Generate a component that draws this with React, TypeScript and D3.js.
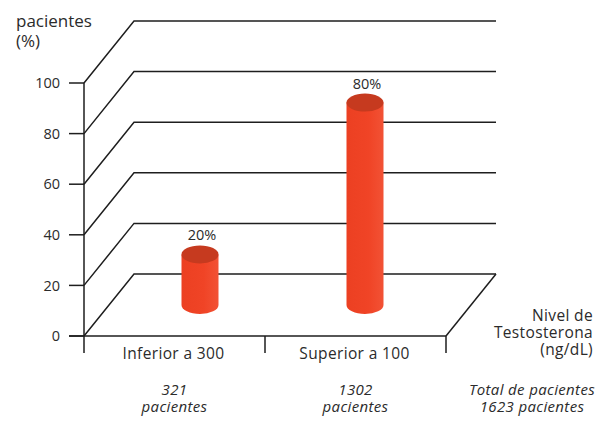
import React from "react";
import * as d3 from "d3";

const categories = ["Inferior a 300", "Superior a 100"];
const values = [20, 80];
const patientCounts = ["321", "1302"];
const yTicks = [0, 20, 40, 60, 80, 100];
const titleLines = ["pacientes", "(%)"];
const axisTitleLines = ["Nivel de", "Testosterona", "(ng/dL)"];
const totalLines = ["Total de pacientes", "1623 pacientes"];

const W = 606;
const H = 421;
const FONT = "'Open Sans', 'Noto Sans', sans-serif";
const LINE = "#1e1e1e";
const TEXT = "#2b2b2b";
const TOP = "#C63A1F";

export default function App() {
  const y = d3.scaleLinear().domain([0, 100]).range([336, 83]);
  const xFront = d3.scaleBand().domain(categories).range([84, 446]).padding(0);
  const xBar = d3.scalePoint().domain(categories).range([200, 365]);
  const depthX = 50;
  const depthY = -62;
  const frontLeft = xFront.range()[0];
  const frontRight = xFront.range()[1];
  const rx = 18.5;
  const ry = 9;

  const diag = d3.line<[number, number]>();

  return (
    <svg
      width={W}
      height={H}
      style={{ position: "absolute", left: 0, top: 0, background: "#fff" }}
      fontFamily={FONT}
    >
      <defs>
        <linearGradient id="cyl" x1="0" x2="1" y1="0" y2="0">
          <stop offset="0" stopColor="#EC4022" />
          <stop offset="0.6" stopColor="#F04426" />
          <stop offset="1" stopColor="#F25235" />
        </linearGradient>
      </defs>
      {yTicks.map((t) => (
        <g key={t}>
          <path
            d={diag([
              [frontLeft, y(t)],
              [frontLeft + depthX, y(t) + depthY],
              [frontRight + depthX, y(t) + depthY],
            ])!}
            fill="none"
            stroke={LINE}
            strokeWidth={1.5}
          />
          <line x1={frontLeft - 15} x2={frontLeft} y1={y(t)} y2={y(t)} stroke={LINE} strokeWidth={1.5} />
          <text
            x={frontLeft - 24}
            y={y(t)}
            dy="0.36em"
            textAnchor="end"
            fontSize={14.5}
            fill={TEXT}
          >
            {t}
          </text>
        </g>
      ))}
      <line x1={frontLeft} x2={frontLeft} y1={y(100)} y2={y(0) + 17} stroke={LINE} strokeWidth={1.5} />
      <line x1={frontLeft - 15} x2={frontRight} y1={y(0)} y2={y(0)} stroke={LINE} strokeWidth={1.5} />
      <line
        x1={frontRight}
        x2={frontRight + depthX}
        y1={y(0)}
        y2={y(0) + depthY}
        stroke={LINE}
        strokeWidth={1.5}
      />
      {categories.map((c) => (
        <line
          key={c}
          x1={(xFront(c) as number) + xFront.bandwidth()}
          x2={(xFront(c) as number) + xFront.bandwidth()}
          y1={y(0)}
          y2={y(0) + 17}
          stroke={LINE}
          strokeWidth={1.5}
        />
      ))}
      {categories.map((c, i) => {
        const cx = xBar(c) as number;
        const base = y(0) + depthY / 2;
        const top = y(values[i]) + depthY / 2;
        return (
          <g key={c}>
            <path
              d={`M${cx - rx},${top} L${cx - rx},${base} A${rx},${ry} 0 0 0 ${cx + rx},${base} L${cx + rx},${top} Z`}
              fill="url(#cyl)"
            />
            <ellipse cx={cx} cy={top} rx={rx} ry={ry} fill={TOP} />
            <text x={cx + 2} y={top - 14} textAnchor="middle" fontSize={14.5} fill={TEXT}>
              {values[i]}%
            </text>
          </g>
        );
      })}
      {categories.map((c, i) => {
        const cx = (xFront(c) as number) + xFront.bandwidth() / 2;
        return (
          <g key={c} fill={TEXT} textAnchor="middle">
            <text x={cx - 1} y={359} fontSize={15.5} letterSpacing={0.35}>
              {c}
            </text>
            <text x={cx} y={395} fontSize={15} letterSpacing={0.35} fontStyle="italic">
              {patientCounts[i]}
            </text>
            <text x={cx} y={411.5} fontSize={15} letterSpacing={0.35} fontStyle="italic">
              pacientes
            </text>
          </g>
        );
      })}
      {axisTitleLines.map((l, i) => (
        <text
          key={l}
          x={593}
          y={321 + i * 17}
          textAnchor="end"
          fontSize={15.5}
          letterSpacing={0.35}
          fill={TEXT}
        >
          {l}
        </text>
      ))}
      {totalLines.map((l, i) => (
        <text
          key={l}
          x={532}
          y={395 + i * 16.5}
          textAnchor="middle"
          fontSize={15}
          letterSpacing={0.35}
          fontStyle="italic"
          fill={TEXT}
        >
          {l}
        </text>
      ))}
      {titleLines.map((l, i) => (
        <text key={l} x={16} y={27 + i * 20} fontSize={17} fill={TEXT}>
          {l}
        </text>
      ))}
    </svg>
  );
}
